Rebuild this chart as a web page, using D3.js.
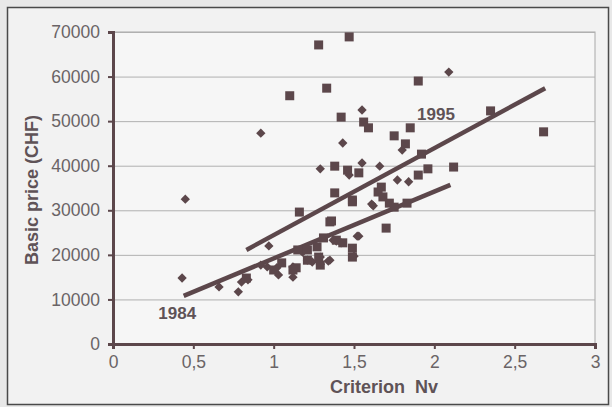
<!DOCTYPE html>
<meta charset="utf-8">
<head>
<style>
    body {margin: 0; background: #e8e8e8;}
    text {font-family: "Liberation Sans", Arial, sans-serif;}
</style>
</head>
<body>
<div class="chart"></div>
<script src="https://d3js.org/d3.v7.min.js"></script>
<script>
// 1995 models (squares)
var x1995 = [1.28, 1.47, 1.10, 1.33, 1.90, 1.42, 1.56, 1.59, 1.85, 1.75, 1.82, 1.92,
    1.38, 1.46, 1.53, 1.96, 1.90, 2.12, 2.35, 2.68, 1.67, 1.38, 1.49, 1.65, 1.68,
    1.49, 1.72, 1.75, 1.83, 1.70, 1.16, 1.35, 1.31, 1.27, 1.21, 1.15, 1.21, 1.28,
    1.29, 1.14, 0.83, 1.43, 1.39, 1.49, 1.49, 1.05, 1.00, 1.12, 1.36];
var y1995 = [67100, 68900, 55700, 57400, 59000, 50900, 49800, 48500, 48500, 46700, 44900, 42600,
    39900, 39000, 38400, 39300, 37900, 39700, 52300, 47600, 35200, 33900, 32300, 34100, 33000,
    31900, 31600, 30700, 31600, 26000, 29600, 27400, 23800, 21800, 21100, 21100, 18800, 19500,
    17700, 17100, 14800, 22700, 23300, 21500, 19500, 18200, 16600, 16600, 27600];

// 1984 models (diamonds)
var x1984 = [2.09, 1.55, 1.43, 0.92, 0.45, 1.29, 1.47, 1.55, 1.66, 1.80, 1.77, 1.84,
    1.62, 1.52, 0.97, 0.43, 0.66, 0.78, 0.80, 0.92, 0.96, 1.02, 1.03, 1.12, 1.12,
    1.21, 1.35, 1.37, 1.42, 1.50, 1.29, 1.34, 1.39, 1.18, 1.24, 1.29, 0.84, 1.61, 1.53];
var y1984 = [61000, 52500, 45100, 47300, 32500, 39300, 37900, 40600, 39900, 43500, 36800, 36400,
    31000, 24200, 22000, 14800, 12800, 11700, 13900, 17700, 17300, 17100, 15500, 17300, 15000,
    18800, 18800, 23300, 22700, 19700, 17900, 18600, 23100, 20600, 18400, 19500, 14400, 31400, 24200];

// trend lines (start and end)
var trendX1984 = [0.44, 2.10], trendY1984 = [10800, 35700];
var trendX1995 = [0.83, 2.69], trendY1995 = [21100, 57400];

var xTicks = [0, 0.5, 1, 1.5, 2, 2.5, 3];
var yTicks = [0, 10000, 20000, 30000, 40000, 50000, 60000, 70000];

var W = 612, H = 407;
var margin = {top: 32, right: 17, bottom: 63, left: 113};
var width = W - margin.left - margin.right,
    height = H - margin.top - margin.bottom;
var ink = "#5c474b";

var x = d3.scaleLinear().domain([0, 3]).range([0, width]);
var y = d3.scaleLinear().domain([0, 70000]).range([height, 0]);

var svg = d3.select(".chart").append("svg")
    .attr("width", W)
    .attr("height", H);

// outer frame
svg.append("rect")
    .attr("x", 7.5).attr("y", 7.5)
    .attr("width", 601).attr("height", 397)
    .style("fill", "#f2f2f2")
    .style("stroke", "#4a4a4a")
    .style("stroke-width", 1.5);

var g = svg.append("g").attr("transform", "translate(" + margin.left + "," + margin.top + ")");

g.append("rect")
    .attr("width", width).attr("height", height)
    .style("fill", "#f6f6f6")
    .style("stroke", "#a8a8a8");

// grid
g.selectAll(".grid").data(yTicks.slice(1)).enter().append("line")
    .attr("x1", 0).attr("x2", width)
    .attr("y1", function (d) { return y(d) + 0.5; })
    .attr("y2", function (d) { return y(d) + 0.5; })
    .style("stroke", "#b0b0b0");

// axes
var xAxis = g.append("g").attr("transform", "translate(0," + height + ")")
    .call(d3.axisBottom(x).tickValues(xTicks).tickSizeOuter(0).tickSize(5).tickPadding(7)
        .tickFormat(function (d) { return String(d).replace(".", ","); }));
var yAxis = g.append("g")
    .call(d3.axisLeft(y).tickValues(yTicks).tickSizeOuter(0).tickSize(5).tickPadding(8)
        .tickFormat(d3.format("d")));

[xAxis, yAxis].forEach(function (a) {
    a.select(".domain").style("stroke", ink).style("stroke-width", 3);
    a.selectAll(".tick line").style("stroke", ink).style("stroke-width", 2);
    a.selectAll(".tick text")
        .style("font-size", "17.5px")
        .style("font-family", "'Liberation Sans', Arial, sans-serif")
        .style("fill", "#6a6466");
});

// trend lines
var line = d3.line().x(function (d) { return x(d[0]); }).y(function (d) { return y(d[1]); });
[[trendX1984, trendY1984], [trendX1995, trendY1995]].forEach(function (t) {
    g.append("path")
        .datum(d3.zip(t[0], t[1]))
        .attr("d", line)
        .style("fill", "none")
        .style("stroke", ink)
        .style("stroke-width", 4.5);
});

// points
g.selectAll(".dia").data(d3.zip(x1984, y1984)).enter().append("path")
    .attr("class", "dia")
    .attr("transform", function (d) { return "translate(" + x(d[0]) + "," + y(d[1]) + ") rotate(45)"; })
    .attr("d", "M-3.3,-3.3h6.6v6.6h-6.6z")
    .style("fill", ink);

g.selectAll(".sq").data(d3.zip(x1995, y1995)).enter().append("rect")
    .attr("class", "sq")
    .attr("x", function (d) { return x(d[0]) - 4.5; })
    .attr("y", function (d) { return y(d[1]) - 4.5; })
    .attr("width", 9).attr("height", 9)
    .style("fill", ink);

// labels
g.append("text").attr("x", x(2.01)).attr("y", y(51500) + 6)
    .attr("text-anchor", "middle")
    .style("font-size", "17px").style("font-weight", "bold").style("fill", "#5f5357")
    .text("1995");
g.append("text").attr("x", x(0.40)).attr("y", y(7000) + 6)
    .attr("text-anchor", "middle")
    .style("font-size", "17px").style("font-weight", "bold").style("fill", "#5f5357")
    .text("1984");

svg.append("text")
    .attr("transform", "translate(38," + (margin.top + height / 2 + 2) + ") rotate(-90)")
    .attr("text-anchor", "middle")
    .style("font-size", "18px").style("font-weight", "bold").style("fill", "#5f5357")
    .text("Basic price (CHF)");
svg.append("text")
    .attr("x", 384).attr("y", 393)
    .attr("text-anchor", "middle")
    .style("font-size", "18px").style("font-weight", "bold").style("fill", "#5f5357")
    .style("white-space", "pre")
    .text("Criterion  Nv");
</script>
</body>
